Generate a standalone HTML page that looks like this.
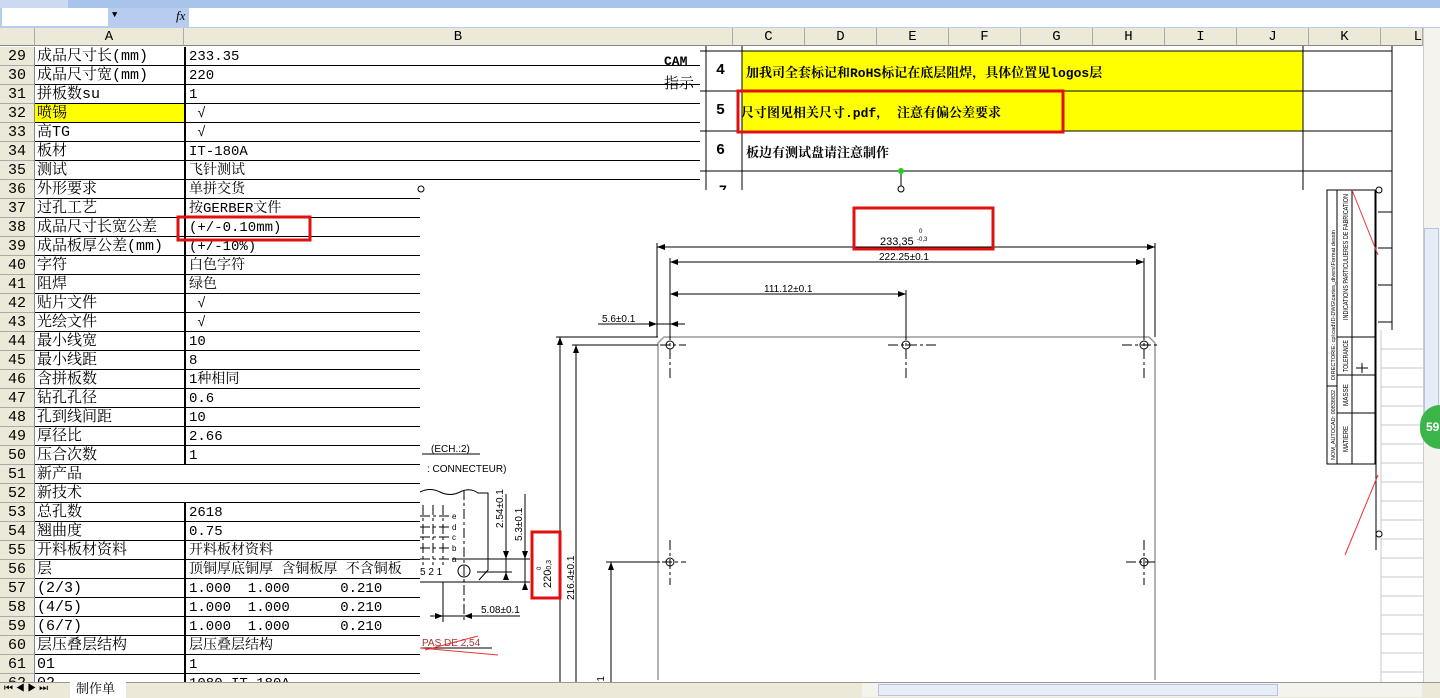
<!DOCTYPE html>
<html><head><meta charset="utf-8"><style>
body{margin:0;width:1440px;height:698px;overflow:hidden;background:#fff;position:relative;font-family:"Liberation Mono","Noto Serif CJK SC",monospace;}
.a{position:absolute;}
.r{position:absolute;height:19px;line-height:20px;font-size:15px;white-space:nowrap;}
.n{left:0;width:35px;background:#ECE9D8;color:#000;text-align:center;border-bottom:1px solid #aaa;box-sizing:border-box;border-right:1px solid #888;}
.c1{left:35px;width:149px;border-bottom:1px solid #000;box-sizing:border-box;padding-left:2px;overflow:hidden;}
.c2{left:184px;width:236px;border-bottom:1px solid #000;box-sizing:border-box;padding-left:3px;border-left:2px solid #000;overflow:hidden;font-size:14px;}
.hd{position:absolute;top:28px;height:18px;background:#ECE9D8;border-right:1px solid #aaa;border-bottom:1px solid #888;box-sizing:border-box;text-align:center;font-size:14px;line-height:19px;}
svg text{font-family:"Liberation Sans Narrow","Liberation Sans",sans-serif;}
</style></head><body>
<div class="a" style="left:0;top:0;width:1440px;height:8px;background:#a9c4ea"></div>
<div class="a" style="left:0;top:0;width:68px;height:8px;background:#cdd9ee"></div>
<div class="a" style="left:0;top:8px;width:1440px;height:20px;background:#b7cdf0"></div>
<div class="a" style="left:2px;top:8px;width:106px;height:18px;background:#fff"></div>
<div class="a" style="left:112px;top:10px;font-size:9px;">▼</div>
<div class="a" style="left:176px;top:8px;font-size:13px;font-style:italic;font-family:'Liberation Serif',serif">fx</div>
<div class="a" style="left:189px;top:8px;width:1251px;height:19px;background:#fff"></div>
<div class="hd" style="left:0;width:35px"></div>
<div class="hd" style="left:35px;width:149px">A</div>
<div class="hd" style="left:184px;width:549px">B</div>
<div class="hd" style="left:733px;width:72px">C</div><div class="hd" style="left:805px;width:72px">D</div><div class="hd" style="left:877px;width:72px">E</div><div class="hd" style="left:949px;width:72px">F</div><div class="hd" style="left:1021px;width:72px">G</div><div class="hd" style="left:1093px;width:72px">H</div><div class="hd" style="left:1165px;width:72px">I</div><div class="hd" style="left:1237px;width:72px">J</div><div class="hd" style="left:1309px;width:72px">K</div><div class="hd" style="left:1381px;width:42px;text-align:right">L</div>

<div id="rows"></div>
<script>
var d=[["29","成品尺寸长(mm)","233.35"],["30","成品尺寸宽(mm)","220"],["31","拼板数su","1"],["32","喷锡","&nbsp;√"],["33","高TG","&nbsp;√"],["34","板材","IT-180A"],["35","测试","飞针测试"],["36","外形要求","单拼交货"],["37","过孔工艺","按GERBER文件"],["38","成品尺寸长宽公差","(+/-0.10mm)"],["39","成品板厚公差(mm)","(+/-10%)"],["40","字符","白色字符"],["41","阻焊","绿色"],["42","贴片文件","&nbsp;√"],["43","光绘文件","&nbsp;√"],["44","最小线宽","10"],["45","最小线距","8"],["46","含拼板数","1种相同"],["47","钻孔孔径","0.6"],["48","孔到线间距","10"],["49","厚径比","2.66"],["50","压合次数","1"],["51","新产品",null],["52","新技术",null],["53","总孔数","2618"],["54","翘曲度","0.75"],["55","开料板材资料","开料板材资料"],["56","层","顶铜厚底铜厚 含铜板厚 不含铜板"],["57","(2/3)","1.000  1.000      0.210"],["58","(4/5)","1.000  1.000      0.210"],["59","(6/7)","1.000  1.000      0.210"],["60","层压叠层结构","层压叠层结构"],["61","01","1"],["62","02","1080 IT-180A"]];
var h="";for(var i=0;i<d.length;i++){var y=47+i*19;var w=i<7?516:236;
h+='<div class="r n" style="top:'+y+'px">'+d[i][0]+'</div>';
h+='<div class="r c1" style="top:'+y+'px;'+(i==3?'background:#ff0;':'')+(d[i][2]===null?'width:'+(w+149)+'px;':'')+'">'+d[i][1]+'</div>';
if(d[i][2]!==null)h+='<div class="r c2" style="top:'+y+'px;width:'+w+'px;white-space:pre">'+d[i][2]+'</div>';}
document.getElementById("rows").innerHTML=h;
</script>
<div class="a" style="left:664px;top:54px;font-size:13px;font-weight:bold;">CAM</div>
<div class="a" style="left:664px;top:72px;font-size:15px;">指示</div>
<div class="a" style="left:700px;top:46px;width:723px;height:145px;background:#fff"></div>
<div class="a" style="left:742px;top:51px;width:561px;height:80px;background:#ff0"></div>
<div class="a" style="left:716px;top:62px;font-size:15px;font-weight:bold;">4</div>
<div class="a" style="left:716px;top:102px;font-size:15px;font-weight:bold;">5</div>
<div class="a" style="left:716px;top:142px;font-size:15px;font-weight:bold;">6</div>
<div class="a" style="left:746px;top:62px;font-size:13px;font-weight:bold;">加我司全套标记和RoHS标记在底层阻焊，具体位置见logos层</div>
<div class="a" style="left:741px;top:102px;font-size:13px;font-weight:bold;white-space:pre">尺寸图见相关尺寸.pdf， 注意有偏公差要求</div>
<div class="a" style="left:746px;top:142px;font-size:13px;font-weight:bold;">板边有测试盘请注意制作</div>

<svg class="a" style="left:0;top:0" width="1440" height="698" viewBox="0 0 1440 698">
<g stroke="#000" stroke-width="1">
<line x1="700" y1="51" x2="1392" y2="51"/><line x1="700" y1="91" x2="1392" y2="91"/><line x1="700" y1="131" x2="1392" y2="131"/><line x1="700" y1="171" x2="1392" y2="171"/>
<line x1="706" y1="46" x2="706" y2="190"/><line x1="742" y1="46" x2="742" y2="190"/><line x1="1303" y1="46" x2="1303" y2="190"/><line x1="1392" y1="46" x2="1392" y2="190"/>
</g>
<rect x="420" y="190" width="1003" height="492" fill="#fff"/>
<rect x="1381" y="330" width="42" height="352" fill="#fff"/>
<g stroke="#c8c8c8"><line x1="1381" y1="330" x2="1381" y2="682"/>
<line x1="1381" y1="349" x2="1423" y2="349"/><line x1="1381" y1="368" x2="1423" y2="368"/><line x1="1381" y1="387" x2="1423" y2="387"/><line x1="1381" y1="406" x2="1423" y2="406"/><line x1="1381" y1="425" x2="1423" y2="425"/><line x1="1381" y1="444" x2="1423" y2="444"/><line x1="1381" y1="463" x2="1423" y2="463"/><line x1="1381" y1="482" x2="1423" y2="482"/><line x1="1381" y1="501" x2="1423" y2="501"/><line x1="1381" y1="520" x2="1423" y2="520"/><line x1="1381" y1="539" x2="1423" y2="539"/><line x1="1381" y1="558" x2="1423" y2="558"/><line x1="1381" y1="577" x2="1423" y2="577"/><line x1="1381" y1="596" x2="1423" y2="596"/><line x1="1381" y1="615" x2="1423" y2="615"/><line x1="1381" y1="634" x2="1423" y2="634"/><line x1="1381" y1="653" x2="1423" y2="653"/><line x1="1381" y1="672" x2="1423" y2="672"/></g>
<text x="719" y="195" font-size="14" font-weight="bold" font-family="Liberation Serif">7</text>
<rect x="700" y="190" width="723" height="10" fill="#fff"/>
<line x1="901" y1="171" x2="901" y2="186" stroke="#000"/><circle cx="901" cy="171" r="3" fill="#2c2"/><circle cx="901" cy="189" r="3" fill="#fff" stroke="#000"/>
<circle cx="421" cy="189" r="3" fill="#fff" stroke="#000"/>
<path d="M658,680 V343 L664,337 H1149 L1155,343 V680" fill="none" stroke="#999" stroke-width="1.5"/>
<g stroke="#000" stroke-width="1" fill="none">
<line x1="657" y1="243" x2="657" y2="337"/><line x1="1155" y1="243" x2="1155" y2="337"/>
<line x1="657" y1="247" x2="1155" y2="247"/>
<line x1="670" y1="262" x2="1144" y2="262"/>
<line x1="670" y1="294" x2="906" y2="294"/><line x1="906" y1="290" x2="906" y2="330"/>
<line x1="670" y1="258" x2="670" y2="330"/><line x1="1144" y1="258" x2="1144" y2="330"/>
<line x1="598" y1="324" x2="685" y2="324"/>
<line x1="556" y1="337" x2="658" y2="337"/><line x1="560" y1="337" x2="560" y2="698"/>
<line x1="572" y1="345" x2="658" y2="345"/><line x1="576" y1="345" x2="576" y2="698"/>
<line x1="606" y1="562" x2="660" y2="562"/><line x1="611" y1="562" x2="611" y2="698"/>
<g stroke-dasharray="10,3,3,3">
<line x1="670" y1="330" x2="670" y2="380"/><line x1="906" y1="330" x2="906" y2="380"/><line x1="1144" y1="330" x2="1144" y2="380"/>
<line x1="888" y1="345" x2="938" y2="345"/><line x1="1122" y1="345" x2="1160" y2="345"/><line x1="660" y1="345" x2="686" y2="345"/>
<line x1="670" y1="540" x2="670" y2="585"/><line x1="1144" y1="540" x2="1144" y2="585"/>
<line x1="662" y1="562" x2="686" y2="562"/><line x1="1126" y1="562" x2="1156" y2="562"/>
<line x1="464" y1="490" x2="464" y2="622"/>
<line x1="420" y1="559" x2="452" y2="559"/><line x1="420" y1="548" x2="452" y2="548"/><line x1="420" y1="537" x2="452" y2="537"/><line x1="420" y1="527" x2="452" y2="527"/><line x1="420" y1="516" x2="452" y2="516"/>
<line x1="423" y1="505" x2="423" y2="565"/><line x1="433" y1="505" x2="433" y2="565"/><line x1="443" y1="505" x2="443" y2="565"/>
</g>
<circle cx="670" cy="345" r="4"/><circle cx="906" cy="345" r="4"/><circle cx="1144" cy="345" r="4"/><circle cx="670" cy="562" r="4"/><circle cx="1144" cy="562" r="4"/>
<line x1="422" y1="454" x2="480" y2="454"/>
<path d="M420,492 Q430,487 440,492 T460,492 T478,493 H488 V570 L479,580"/>
<line x1="420" y1="582" x2="530" y2="582"/>
<line x1="452" y1="559" x2="530" y2="559"/><line x1="477" y1="572" x2="512" y2="572"/>
<circle cx="464" cy="571" r="6"/>
<line x1="506" y1="494" x2="506" y2="578"/><line x1="525" y1="494" x2="525" y2="590"/>
<line x1="430" y1="616" x2="520" y2="616"/><line x1="443" y1="582" x2="443" y2="622"/>
<line x1="420" y1="648" x2="492" y2="648"/>
<rect x="1327" y="190" width="48" height="274"/>
<line x1="1337" y1="190" x2="1337" y2="464"/><line x1="1352" y1="190" x2="1352" y2="464"/>
<line x1="1337" y1="337" x2="1375" y2="337"/><line x1="1337" y1="375" x2="1375" y2="375"/><line x1="1337" y1="413" x2="1375" y2="413"/><line x1="1327" y1="386" x2="1337" y2="386"/>
<line x1="1376" y1="190" x2="1376" y2="550"/><line x1="1392" y1="180" x2="1392" y2="330"/>
<line x1="1378" y1="212" x2="1392" y2="212"/><line x1="1378" y1="248" x2="1392" y2="248"/><line x1="1378" y1="285" x2="1392" y2="285"/><line x1="1378" y1="322" x2="1392" y2="322"/>
<line x1="1356" y1="368" x2="1368" y2="368"/><line x1="1362" y1="363" x2="1362" y2="373"/>
<circle cx="1379" cy="190" r="3" fill="#fff"/><circle cx="1379" cy="534" r="3" fill="#fff"/>
</g>
<g fill="#000" stroke="none">
<path d="M657,247 l8,-3 v6z M1155,247 l-8,-3 v6z M670,262 l8,-3 v6z M1144,262 l-8,-3 v6z M670,294 l8,-3 v6z M906,294 l-8,-3 v6z M657,324 l-8,-3 v6z M670,324 l8,-3 v6z M560,337 l-3,8 h6z M576,345 l-3,8 h6z M611,562 l-3,8 h6z M506,559 l-3,-8 h6z M506,572 l-3,8 h6z M525,559 l-3,-8 h6z M525,582 l-3,8 h6z M443,616 l-8,-3 v6z M464,616 l8,-3 v6z"/>
</g>
<g font-size="10" fill="#000">
<text x="880" y="245" font-size="11">233,35</text><text x="919" y="233" font-size="6">0</text><text x="917" y="241" font-size="6">-0,3</text>
<text x="879" y="260">222.25±0.1</text>
<text x="764" y="292">111.12±0.1</text>
<text x="602" y="322">5.6±0.1</text>
<text transform="translate(574,600) rotate(-90)">216.4±0.1</text>
<text transform="translate(604,690) rotate(-90)">0.1</text>
<text transform="translate(551,588) rotate(-90)" font-size="11">220</text>
<text transform="translate(541,570) rotate(-90)" font-size="6">0</text>
<text transform="translate(551,572) rotate(-90)" font-size="7">-0,3</text>
<text x="431" y="452">(ECH.:2)</text>
<text x="427" y="472">: CONNECTEUR)</text>
<text transform="translate(503,528) rotate(-90)">2.54±0.1</text>
<text transform="translate(522,541) rotate(-90)">5.3±0.1</text>
<text x="481" y="613">5.08±0.1</text>
<text x="420" y="575">5 2 1</text>
<text x="452" y="519" font-size="8">e</text><text x="452" y="530" font-size="8">d</text><text x="452" y="540" font-size="8">c</text><text x="452" y="551" font-size="8">b</text><text x="452" y="562" font-size="8">a</text>
<text x="422" y="646" fill="#a33">PAS DE 2,54</text>
<text transform="translate(1348,320) rotate(-90)" font-size="7" textLength="126" lengthAdjust="spacingAndGlyphs">INDICATIONS PARTICULIERES DE FABRICATION</text>
<text transform="translate(1348,372) rotate(-90)" font-size="7" textLength="32" lengthAdjust="spacingAndGlyphs">TOLERANCE</text>
<text transform="translate(1348,406) rotate(-90)" font-size="7" textLength="22" lengthAdjust="spacingAndGlyphs">MASSE</text>
<text transform="translate(1348,452) rotate(-90)" font-size="7" textLength="26" lengthAdjust="spacingAndGlyphs">MATIERE</text>
<text transform="translate(1335,380) rotate(-90)" font-size="5" textLength="150" lengthAdjust="spacingAndGlyphs">DIRECTORIE: cpl:cad\ID-DWG\cartes_divers\Format dessin</text>
<text transform="translate(1335,460) rotate(-90)" font-size="5" textLength="70" lengthAdjust="spacingAndGlyphs">NOM_AUTOCAD: 00838832</text>
</g>
<g stroke="#e33" stroke-width="1" fill="none">
<line x1="420" y1="648" x2="498" y2="655"/><line x1="425" y1="650" x2="478" y2="636"/>
<line x1="1352" y1="190" x2="1378" y2="255"/><line x1="1378" y1="475" x2="1345" y2="555"/>
</g>
<g fill="none" stroke="#e01010" stroke-width="3">
<rect x="178" y="217" width="132" height="23"/>
<rect x="738" y="91" width="325" height="41"/>
<rect x="854" y="208" width="139" height="41"/>
<rect x="532" y="532" width="28" height="66"/>
</g>
</svg>
<div class="a" style="left:1423px;top:28px;width:17px;height:654px;background:#f4f3ee;border-left:1px solid #ccc"></div>
<div class="a" style="left:1424px;top:228px;width:15px;height:190px;background:#e6ecf8;border:1px solid #b8c4dc;box-sizing:border-box"></div>
<div class="a" style="left:1420px;top:405px;width:40px;height:44px;border-radius:22px;background:#3bb54a;color:#fff;font:bold 12px 'Liberation Sans';line-height:44px;padding-left:6px;box-sizing:border-box">59</div>
<div class="a" style="left:0;top:682px;width:1440px;height:16px;background:#ECE9D8;border-top:1px solid #999;box-sizing:border-box"></div>
<div class="a" style="left:4px;top:683px;font-size:10px;font-family:'Liberation Sans'">⏮ ◀ ▶ ⏭</div>
<div class="a" style="left:70px;top:682px;width:56px;height:16px;background:#fff;font-size:13px;line-height:16px;padding-left:6px;box-sizing:border-box">制作单</div>
<div class="a" style="left:862px;top:683px;width:560px;height:14px;background:#f4f3ee"></div>
<div class="a" style="left:878px;top:684px;width:400px;height:12px;background:#e6ecf8;border:1px solid #b8c4dc;box-sizing:border-box"></div>
</body></html>
